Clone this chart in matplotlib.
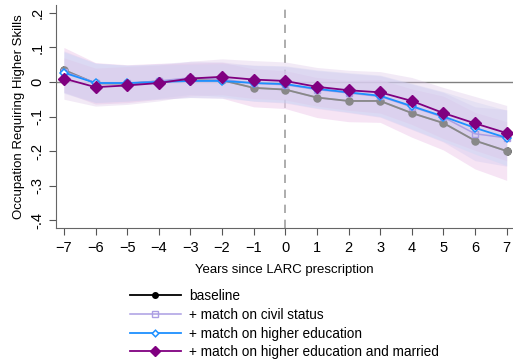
import numpy as np
import matplotlib.pyplot as plt

plt.rcParams['font.family'] = ['Liberation Sans', 'DejaVu Sans']

years = np.arange(-7, 8)

baseline = [0.035, -0.004, -0.005, 0.002, 0.005, 0.005, -0.017, -0.022,
            -0.045, -0.055, -0.055, -0.09, -0.119, -0.17, -0.2]
civil = [0.03, -0.002, -0.004, 0.003, 0.012, 0.008, -0.004, -0.008,
         -0.022, -0.032, -0.042, -0.072, -0.102, -0.15, -0.162]
higher_ed = [0.027, -0.003, -0.003, 0.0, 0.003, 0.003, -0.003, -0.006,
             -0.02, -0.03, -0.04, -0.07, -0.1, -0.133, -0.162]
married = [0.01, -0.015, -0.01, -0.003, 0.01, 0.015, 0.007, 0.003,
           -0.014, -0.024, -0.03, -0.055, -0.09, -0.12, -0.148]

# CI half widths
hw_baseline = [0.065, 0.06, 0.055, 0.052, 0.05, 0.052, 0.055, 0.055,
               0.058, 0.06, 0.062, 0.07, 0.078, 0.082, 0.085]
hw_civil = [0.06, 0.057, 0.052, 0.05, 0.048, 0.05, 0.052, 0.053,
            0.055, 0.057, 0.06, 0.066, 0.072, 0.078, 0.082]
hw_higher_ed = [0.06, 0.057, 0.052, 0.05, 0.048, 0.05, 0.052, 0.053,
                0.055, 0.057, 0.06, 0.066, 0.072, 0.076, 0.08]
hw_married = [0.06, 0.055, 0.055, 0.052, 0.05, 0.052, 0.055, 0.055,
              0.056, 0.058, 0.06, 0.068, 0.074, 0.078, 0.08]

fig = plt.figure(figsize=(5.13, 3.64), dpi=100)
ax = fig.add_axes([56 / 513, 1 - 228 / 364, 1 - 56 / 513, 223 / 364])

ax.axhline(0, color='#808080', lw=1, zorder=0)
ax.axvline(0, color='#a0a0a0', lw=1.2, ls=(0, (5, 4)), zorder=0)

l0, = ax.plot(years, baseline, color='black', marker='o', ms=5, lw=1.3,
              zorder=1, label='baseline')

bands = [(baseline, hw_baseline, '#f0d2ee', 0.6),
         (civil, hw_civil, '#d0c8f0', 0.35),
         (higher_ed, hw_higher_ed, '#c4d8f6', 0.35),
         (married, hw_married, '#dcc4e6', 0.35)]
for est, hw, col, a in bands:
    est = np.array(est)
    hw = np.array(hw)
    ax.fill_between(years, est - hw, est + hw, color=col, alpha=a,
                    lw=0, zorder=2)
# wash over the baseline line so it reads grey, like the original
ax.plot(years, baseline, color='#888888', marker='o', ms=5, lw=1.3,
        zorder=2.5)

l1, = ax.plot(years, civil, color='#ab9ee3', marker='s', ms=5, lw=1.1,
              mfc='none', zorder=3, label='+ match on civil status')
l2, = ax.plot(years, higher_ed, color='#1e90ff', marker='D', ms=4.2,
              lw=1.3, mfc='white', mew=1.1, zorder=4,
              label='+ match on higher education')
l3, = ax.plot(years, married, color='#800080', marker='D', ms=5.8, lw=1.3,
              zorder=5, label='+ match on higher education and married')

ax.set_xlim(-7.25, 7.2)
ax.set_ylim(-0.423, 0.223)
ax.set_xticks(years)
ax.set_yticks([0.2, 0.1, 0, -0.1, -0.2, -0.3, -0.4])
ax.set_yticklabels(['.2', '.1', '0', '-.1', '-.2', '-.3', '-.4'],
                   rotation=90, va='center')
ax.tick_params(labelsize=10.5, length=5, color='#555555')
ax.tick_params(axis='x', pad=4)
for s in ['top', 'right']:
    ax.spines[s].set_visible(False)
for s in ['left', 'bottom']:
    ax.spines[s].set_color('#666666')

ax.set_xlabel('Years since LARC prescription', fontsize=9.5, labelpad=7)
ax.set_ylabel('Occupation Requiring Higher Skills', fontsize=9.5, labelpad=4)

fig.legend(handles=[l0, l1, l2, l3], loc='upper left',
           bbox_to_anchor=(118 / 513, 1 - 277 / 364), frameon=False,
           fontsize=9.8, handlelength=3.7, labelspacing=0.34,
           handletextpad=0.65, markerscale=0.8)

fig.savefig('out.png', dpi=100)
